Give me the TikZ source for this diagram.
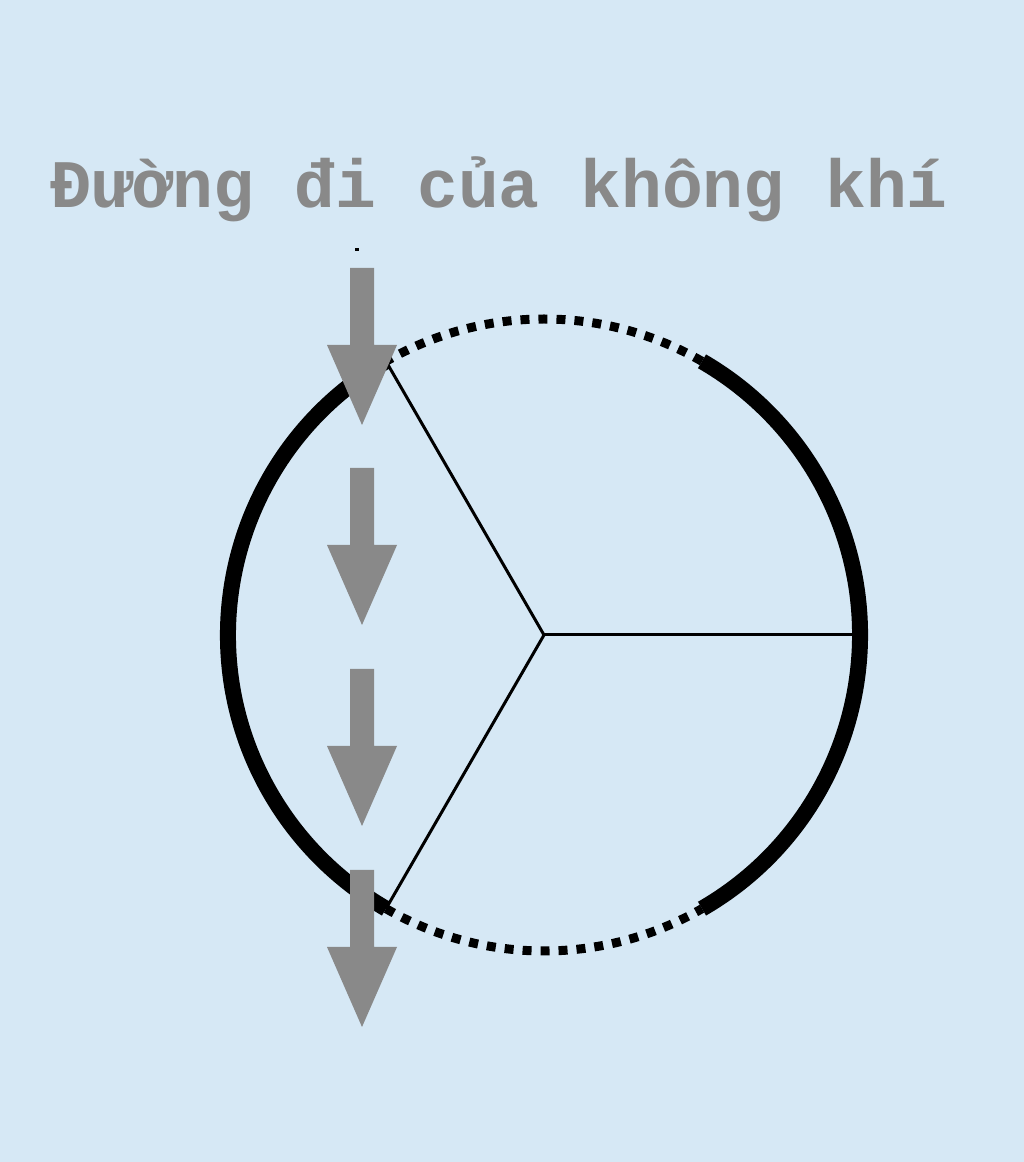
\documentclass[tikz,border=0pt]{standalone}
\usepackage{fontspec}
\newfontfamily\monof{Liberation Mono}
\definecolor{bgblue}{RGB}{214,232,245}
\definecolor{airgray}{RGB}{137,137,137}
\tikzset{
  solidarc/.style={line width=16pt, black},
  dotarc/.style={line width=9pt, black, dash pattern=on 9pt off 9pt},
  spoke/.style={line width=3pt, black},
  airarrow/.style={fill=airgray, draw=none},
  titletext/.style={font=\monof\bfseries\fontsize{68}{80}\selectfont, text=airgray, anchor=base, inner sep=0pt}
}
\begin{document}
\begin{tikzpicture}[x=1pt,y=1pt]
\useasboundingbox (0,0) rectangle (1024,1162);
\fill[bgblue] (0,0) rectangle (1024,1162);
% title
\node[titletext] (title) at (499,954) {Đường đi của không khí};
% tiny mark
\fill[black] (355,911) rectangle (359,914);
% circle
\coordinate (c) at (544,527);
\draw[solidarc] ([shift={(-60:316)}]c) arc[start angle=-60, end angle=60, radius=316];
\draw[solidarc] ([shift={(120:316)}]c) arc[start angle=120, end angle=240, radius=316];
\draw[dotarc] ([shift={(60:316)}]c) arc[start angle=60, end angle=120, radius=316];
\draw[dotarc] ([shift={(240:316)}]c) arc[start angle=240, end angle=300, radius=316];
\coordinate (p0) at ([shift={(0:316)}]c);
\coordinate (p120) at ([shift={(120:316)}]c);
\coordinate (p240) at ([shift={(240:316)}]c);
\draw[spoke] (c) -- (p0);
\draw[spoke] (c) -- (p120);
\draw[spoke] (c) -- (p240);
% air arrows
\foreach \t in {268,468,669,870}{
  \pgfmathsetmacro{\T}{1162-\t}
  \fill[airarrow] (350,\T) -- (374,\T) -- (374,\T-77) -- (397,\T-77) -- (362,\T-157) -- (327,\T-77) -- (350,\T-77) -- cycle;
}
\end{tikzpicture}
\end{document}
